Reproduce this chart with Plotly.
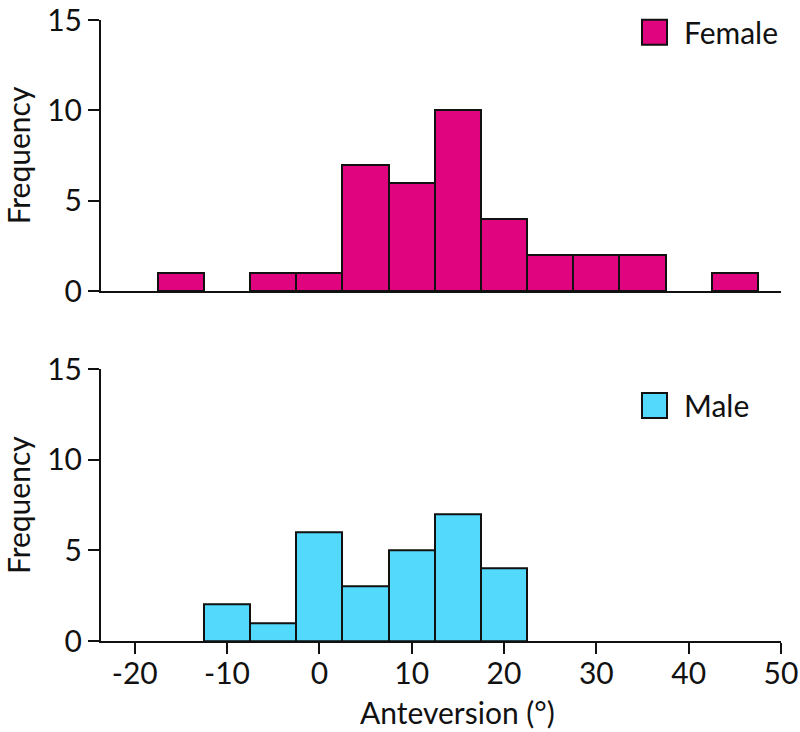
import plotly.graph_objects as go
from plotly.subplots import make_subplots

# Data
female_bins = [-15, -10, -5, 0, 5, 10, 15, 20, 25, 30, 35, 40, 45]
female_counts = [1, 0, 1, 1, 7, 6, 10, 4, 2, 2, 2, 0, 1]
male_bins = [-10, -5, 0, 5, 10, 15, 20]
male_counts = [2, 1, 6, 3, 5, 7, 4]
x_ticks = [-20, -10, 0, 10, 20, 30, 40, 50]
x_tick_labels = ["-20", "-10", "0", "10", "20", "30", "40", "50"]
y_ticks = [0, 5, 10, 15]
y_tick_labels = ["0", "5", "10", "15"]
bin_width = 5

FEMALE_COLOR = "#E0047E"
MALE_COLOR = "#52D9FB"
FONT = "Lato"
FS = 30
INK = "#111111"


def nonzero(bins, counts):
    pairs = [(b, c) for b, c in zip(bins, counts) if c > 0]
    return [p[0] for p in pairs], [p[1] for p in pairs]


fig = make_subplots(rows=2, cols=1, shared_xaxes=False)

fx, fy = nonzero(female_bins, female_counts)
mx, my = nonzero(male_bins, male_counts)
fig.add_trace(go.Bar(x=fx, y=fy, width=bin_width,
                     marker=dict(color=FEMALE_COLOR, line=dict(color=INK, width=2)),
                     name="Female", showlegend=False), row=1, col=1)
fig.add_trace(go.Bar(x=mx, y=my, width=bin_width,
                     marker=dict(color=MALE_COLOR, line=dict(color=INK, width=2)),
                     name="Male", showlegend=False), row=2, col=1)

xrange = [-23.65, 50]
common_y = dict(range=[0, 15], tickvals=y_ticks, ticktext=y_tick_labels, ticks="outside",
                ticklen=11, tickwidth=2, automargin=False, ticklabeloverflow="allow",
                tickcolor=INK, showline=True, linewidth=2, linecolor=INK,
                showgrid=False, zeroline=False, tickfont=dict(family=FONT, size=FS, color=INK),
                title=dict(text="Frequency", font=dict(family=FONT, size=FS, color=INK)))

fig.update_layout(
    width=800, height=732,
    margin=dict(l=101, r=19, t=20, b=91),
    plot_bgcolor="white", paper_bgcolor="white",
    bargap=0,
    xaxis=dict(domain=[0, 1], range=xrange, showline=True, linewidth=2, linecolor=INK,
               showticklabels=False, ticks="", showgrid=False, zeroline=False, automargin=False),
    xaxis2=dict(domain=[0, 1], range=xrange, tickvals=x_ticks, ticktext=x_tick_labels,
                ticks="outside", ticklen=11, tickwidth=2, automargin=False, ticklabelstandoff=-6,
                ticklabeloverflow="allow",
                tickcolor=INK, showline=True, linewidth=2, linecolor=INK,
                showgrid=False, zeroline=False, tickfont=dict(family=FONT, size=FS, color=INK)),
    yaxis=dict(domain=[0.5636, 1], **common_y),
    yaxis2=dict(domain=[0, 0.4375], **common_y),
)

# Axis title for x (centered over -20..50 tick span)
fig.add_annotation(text="Anteversion (°)", xref="x2", x=15, yref="paper", y=-0.114,
                   yanchor="middle", xanchor="center", showarrow=False,
                   font=dict(family=FONT, size=FS, color=INK))

# Legend-like boxes
for yref, color, label, ymid in [("y domain", FEMALE_COLOR, "Female", 0.955),
                                 ("y2 domain", MALE_COLOR, "Male", 0.867)]:
    fig.add_shape(type="rect", xref="x domain", yref=yref,
                  x0=(642 - 101) / 680, x1=(667 - 101) / 680,
                  y0=ymid - 12.5 / 271, y1=ymid + 12.5 / 271,
                  fillcolor=color, line=dict(color=INK, width=2))
    fig.add_annotation(text=label, xref="x domain", yref=yref, x=(682 - 101) / 680, y=ymid,
                       xanchor="left", yanchor="middle", showarrow=False,
                       font=dict(family=FONT, size=FS, color=INK))

fig.write_html("out.html", config={"displayModeBar": False},
               post_script="document.body.style.margin='0';document.body.style.overflow='hidden';")
